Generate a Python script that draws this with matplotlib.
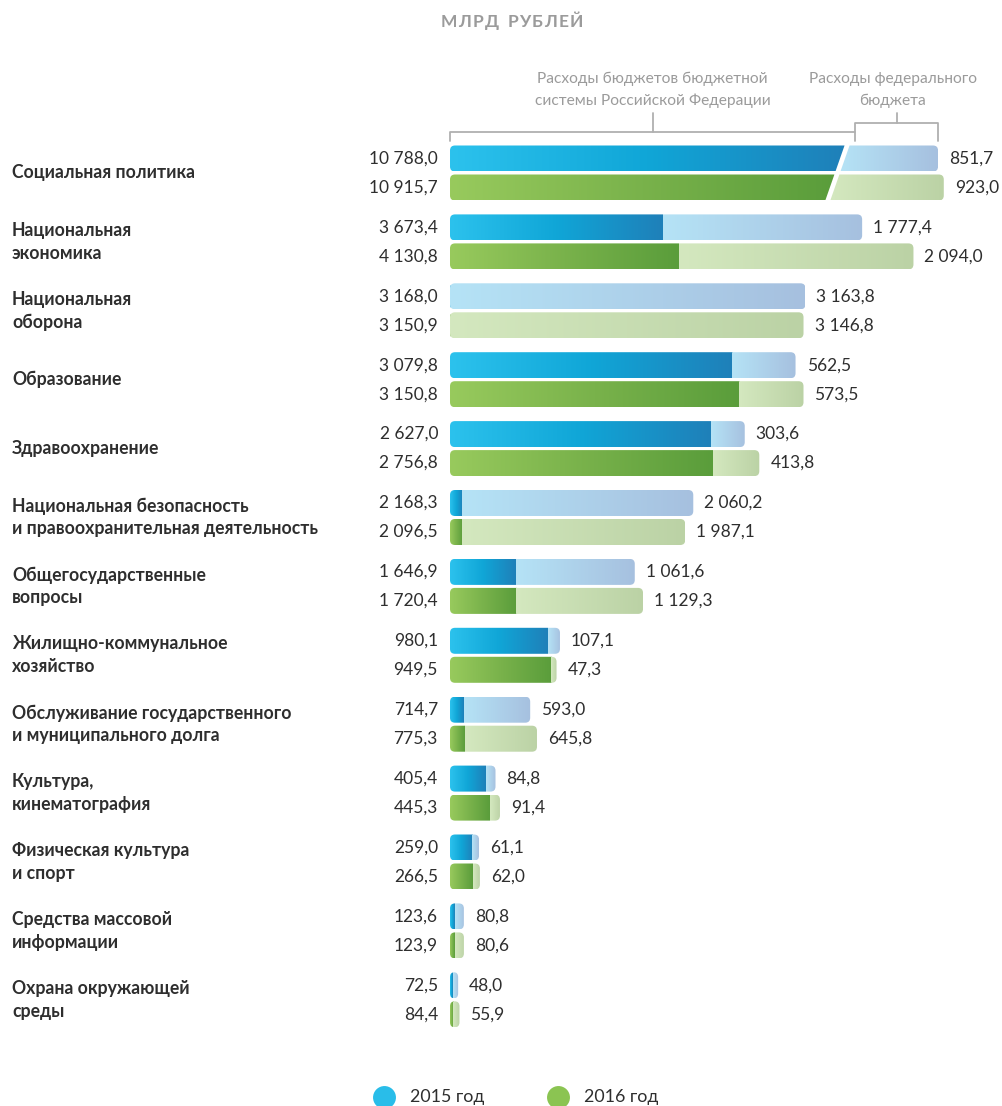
import matplotlib.pyplot as plt
import numpy as np
from matplotlib.path import Path
from matplotlib.patches import PathPatch
from matplotlib.colors import LinearSegmentedColormap

plt.rcParams['font.family'] = ['Lato', 'DejaVu Sans']

categories = [
    'Социальная политика',
    'Национальная\nэкономика',
    'Национальная\nоборона',
    'Образование',
    'Здравоохранение',
    'Национальная безопасность\nи правоохранительная деятельность',
    'Общегосударственные\nвопросы',
    'Жилищно-коммунальное\nхозяйство',
    'Обслуживание государственного\nи муниципального долга',
    'Культура,\nкинематография',
    'Физическая культура\nи спорт',
    'Средства массовой\nинформации',
    'Охрана окружающей\nсреды',
]
# расходы бюджетов бюджетной системы РФ
total_2015 = [10788.0, 3673.4, 3168.0, 3079.8, 2627.0, 2168.3, 1646.9, 980.1, 714.7, 405.4, 259.0, 123.6, 72.5]
total_2016 = [10915.7, 4130.8, 3150.9, 3150.8, 2756.8, 2096.5, 1720.4, 949.5, 775.3, 445.3, 266.5, 123.9, 84.4]
# расходы федерального бюджета
federal_2015 = [851.7, 1777.4, 3163.8, 562.5, 303.6, 2060.2, 1061.6, 107.1, 593.0, 84.8, 61.1, 80.8, 48.0]
federal_2016 = [923.0, 2094.0, 3146.8, 573.5, 413.8, 1987.1, 1129.3, 47.3, 645.8, 91.4, 62.0, 80.6, 55.9]
years = ['2015 год', '2016 год']

W, H = 1003, 1106
UPP = 8.913          # млрд руб. на пиксель
X0 = 450             # начало столбцов, px
ROW0, ROW_STEP = 173, 68.9
BAR_OFF, BAR_H = 14.5, 26
R = 5
BREAK_LEN = 4350     # длина разорванного столбца
GAP = 5
SLOPE = 0.35

dark_blue = LinearSegmentedColormap.from_list('db', ['#2cc2ed', '#10a6d7', '#1f80b9'])
light_blue = LinearSegmentedColormap.from_list('lb', ['#b5e3f6', '#a6c0df'])
dark_green = LinearSegmentedColormap.from_list('dg', ['#98ca5d', '#79b24b', '#5a9d3b'])
light_green = LinearSegmentedColormap.from_list('lg', ['#d4e8bf', '#bbd2a5'])
TEXT = '#2e2e2e'
GREY = '#9b9b9b'

fig = plt.figure(figsize=(W / 100, H / 100), dpi=100)
ax = fig.add_axes([0, 0, 1, 1])
ax.axis('off')

px = UPP
py = 1 / ROW_STEP


def xd(p):
    return (p - X0) * UPP


def yd(p):
    return (p - ROW0) / ROW_STEP


def seg_path(xl, xr, y0, y1, round_l=True, round_r=True):
    # xl, xr: (top, bottom) x of the edges
    rx = min(R * px, (xr[0] - xl[0]) / 2)
    ry = R * py
    L, C = Path.LINETO, Path.CURVE3
    if round_l:
        verts, codes = [(xl[0] + rx, y0)], [Path.MOVETO]
    else:
        verts, codes = [(xl[0], y0)], [Path.MOVETO]
    if round_r:
        verts += [(xr[0] - rx, y0), (xr[0], y0), (xr[0], y0 + ry),
                  (xr[0], y1 - ry), (xr[0], y1), (xr[0] - rx, y1)]
        codes += [L, C, C, L, C, C]
    else:
        verts += [(xr[0], y0), (xr[1], y1)]
        codes += [L, L]
    if round_l:
        verts += [(xl[0] + rx, y1), (xl[0], y1), (xl[0], y1 - ry),
                  (xl[0], y0 + ry), (xl[0], y0), (xl[0] + rx, y0)]
        codes += [L, C, C, L, C, C]
    else:
        verts += [(xl[1], y1), (xl[0], y0)]
        codes += [L, L]
    verts.append((0, 0))
    codes.append(Path.CLOSEPOLY)
    return Path(verts, codes)


grad = np.linspace(0, 1, 256).reshape(1, -1)


def fill(path, a, b, y0, y1, cmap):
    patch = PathPatch(path, facecolor='none', edgecolor='none')
    ax.add_patch(patch)
    im = ax.imshow(grad, extent=[a, b, y1, y0], aspect='auto', cmap=cmap,
                   interpolation='bilinear', zorder=2)
    im.set_clip_path(patch)


def fmt(v):
    return f'{v:,.1f}'.replace(',', ' ').replace('.', ',')


xmax = (W - X0) * UPP
big = [t for t in total_2015 + total_2016 if t > xmax]
slash = None

for i, cat in enumerate(categories):
    ax.text(xd(12), i, cat, ha='left', va='center', fontsize=12.7,
            weight='bold', color=TEXT, linespacing=1.4)
    rows = [(total_2015[i], federal_2015[i], -BAR_OFF, dark_blue, light_blue),
            (total_2016[i], federal_2016[i], BAR_OFF, dark_green, light_green)]
    for total, fed, off, cd, cl in rows:
        yc = i + off * py
        y0, y1 = yc - BAR_H / 2 * py, yc + BAR_H / 2 * py
        if total > xmax:
            shown = BREAK_LEN + 0.4 * (total - min(big))
            if slash is None:
                slash = (shown - fed, yc)
            k = SLOPE * UPP * ROW_STEP
            xs0 = slash[0] - k * (y0 - slash[1])
            xs1 = slash[0] - k * (y1 - slash[1])
            g = GAP / 2 * px
            p1 = seg_path((0, 0), (xs0 - g, xs1 - g), y0, y1, True, False)
            fill(p1, 0, xs0 - g, y0, y1, cd)
            p2 = seg_path((xs0 + g, xs1 + g), (shown, shown), y0, y1, False, True)
            fill(p2, xs1 + g, shown, y0, y1, cl)
        else:
            shown = total
            p = seg_path((0, 0), (shown, shown), y0, y1)
            fill(p, 0, total - fed, y0, y1, cd)
            fill(p, total - fed, total, y0, y1, cl)
        ax.text(-12 * px, yc, fmt(total), ha='right', va='center',
                fontsize=12.5, color=TEXT)
        ax.text(shown + 11 * px, yc, fmt(fed), ha='left', va='center',
                fontsize=12.5, color=TEXT)

# скобки над первым столбцом
first_end = BREAK_LEN
k = SLOPE * UPP * ROW_STEP
y_top15 = -BAR_OFF * py - BAR_H / 2 * py
split = slash[0] - k * (y_top15 - slash[1]) + 8 * px
bk = dict(color='#b0b0b0', lw=1.3, solid_joinstyle='round', solid_capstyle='round')
ax.plot([0, 0, split], [yd(141), yd(132), yd(132)], **bk)
ax.plot([split, split, first_end, first_end], [yd(141), yd(123), yd(123), yd(141)], **bk)
c1 = split / 2
c2 = (split + first_end) / 2
ax.plot([c1, c1], [yd(132), yd(113)], **bk)
ax.plot([c2, c2], [yd(123), yd(113)], **bk)
ax.text(c1, yd(90), 'Расходы бюджетов бюджетной\nсистемы Российской Федерации',
        ha='center', va='center', fontsize=11.2, color=GREY, linespacing=1.7)
ax.text(c2 - 4 * px, yd(90), 'Расходы федерального\nбюджета',
        ha='center', va='center', fontsize=11.2, color=GREY, linespacing=1.7)

# заголовок с разрядкой
title = 'МЛРД РУБЛЕЙ'
tkw = dict(fontsize=12.5, weight='bold', color=GREY, va='center')
r = fig.canvas.get_renderer()
widths = []
for ch in title:
    t = ax.text(0, 0, 'Н' if ch == ' ' else ch, **tkw)
    w = t.get_window_extent(r).width
    t.remove()
    widths.append(w * 0.4 if ch == ' ' else w)
sp = 1.4
x = 512 - (sum(widths) + sp * (len(title) - 1)) / 2
for ch, w in zip(title, widths):
    if ch != ' ':
        ax.text(xd(x), yd(22), ch, ha='left', **tkw)
    x += w + sp

# легенда
for lx, col, lab in [(384, '#29bde9', years[0]), (558, '#8bc452', years[1])]:
    ax.plot([xd(lx)], [yd(1097)], 'o', ms=16.5, color=col, mec='none', clip_on=False)
    ax.text(xd(lx + 26), yd(1097), lab, ha='left', va='center', fontsize=12.8, color=TEXT)

ax.set_xlim(-X0 * UPP, (W - X0) * UPP)
ax.set_ylim(yd(H), yd(0))

fig.savefig('out.png', dpi=100)
